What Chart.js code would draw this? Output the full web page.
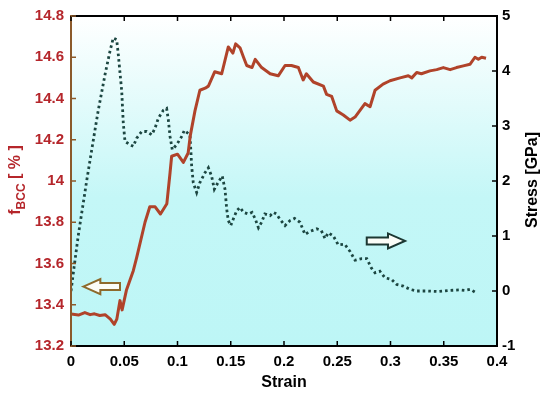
<!DOCTYPE html>
<html>
<head>
<meta charset="utf-8">
<script src="https://cdn.jsdelivr.net/npm/chart.js@4.4.1/dist/chart.umd.min.js"></script>
<style>
  html, body { margin: 0; padding: 0; background: #fff; }
  #wrap { width: 550px; height: 396px; position: relative; }
</style>
</head>
<body>
<div id="wrap"><canvas id="myChart"></canvas></div>
<script>
// fBCC curve (left axis)
const strainF = [0, 0.007, 0.013, 0.018, 0.022, 0.027, 0.032, 0.037, 0.0406, 0.043, 0.046, 0.048, 0.052, 0.0585, 0.0617,
    0.0695, 0.074, 0.079, 0.084, 0.09, 0.093, 0.0945, 0.1, 0.1055, 0.11, 0.112, 0.1164, 0.121, 0.126, 0.129, 0.135,
    0.1415, 0.1477, 0.152, 0.1546, 0.1587, 0.162, 0.165, 0.17, 0.173, 0.179, 0.187, 0.1946, 0.201, 0.207, 0.2135,
    0.218, 0.221, 0.2275, 0.237, 0.24, 0.2448, 0.2495, 0.2557, 0.262, 0.2667, 0.276, 0.2808, 0.2855, 0.293, 0.2995,
    0.309, 0.3167, 0.32, 0.3246, 0.329, 0.337, 0.3434, 0.3496, 0.356, 0.362, 0.3684, 0.3746, 0.3793, 0.3825, 0.3856, 0.3897];
const fbcc = [13.355, 13.35, 13.362, 13.352, 13.356, 13.348, 13.352, 13.33, 13.305, 13.33, 13.42, 13.375, 13.47, 13.565, 13.63,
    13.80, 13.875, 13.875, 13.84, 13.89, 14.04, 14.12, 14.13, 14.09, 14.136, 14.22, 14.34, 14.44, 14.45, 14.46, 14.53,
    14.52, 14.65, 14.62, 14.665, 14.646, 14.60, 14.56, 14.55, 14.59, 14.55, 14.52, 14.51, 14.56, 14.56, 14.55,
    14.49, 14.52, 14.48, 14.46, 14.42, 14.41, 14.34, 14.32, 14.295, 14.31, 14.375, 14.36, 14.44, 14.47, 14.486,
    14.50, 14.51, 14.50, 14.526, 14.52, 14.534, 14.54, 14.55, 14.54, 14.55, 14.558, 14.566, 14.60, 14.59, 14.60, 14.595];

// stress curve (right axis)
const strainS = [0, 0.0028, 0.0069, 0.0116, 0.0147, 0.021, 0.0256, 0.032, 0.0366, 0.0397, 0.0429, 0.0444, 0.0476, 0.0491,
    0.0507, 0.0554, 0.0585, 0.0617, 0.0664, 0.071, 0.0758, 0.0789, 0.082, 0.0867, 0.0898, 0.0914, 0.093, 0.0951, 0.0992,
    0.104, 0.1064, 0.109, 0.1117, 0.1133, 0.1148, 0.118, 0.121, 0.1258, 0.129, 0.132, 0.1346, 0.138, 0.142, 0.1446,
    0.1462, 0.1477, 0.150, 0.1524, 0.1556, 0.1587, 0.162, 0.1665, 0.17, 0.173, 0.176, 0.179, 0.182, 0.187, 0.19, 0.193,
    0.196, 0.201, 0.2056, 0.21, 0.215, 0.2197, 0.224, 0.2307, 0.235, 0.2385, 0.2416, 0.2463, 0.251, 0.257, 0.262,
    0.2667, 0.273, 0.2777, 0.282, 0.2855, 0.29, 0.2948, 0.301, 0.3058, 0.312, 0.3183, 0.3246, 0.335, 0.345, 0.355,
    0.365, 0.37, 0.375, 0.3793];
const stress = [0.0, 0.42, 1.02, 1.61, 2.0, 2.75, 3.285, 3.94, 4.36, 4.60, 4.57, 4.30, 3.64, 3.05,
    2.72, 2.66, 2.63, 2.78, 2.90, 2.90, 2.84, 2.96, 3.14, 3.285, 3.32, 3.11, 2.81, 2.57, 2.66,
    2.81, 2.92, 2.88, 2.84, 2.27, 1.97, 1.79, 1.97, 2.15, 2.24, 2.09, 1.85, 1.97, 2.09, 1.85,
    1.49, 1.28, 1.19, 1.31, 1.46, 1.52, 1.43, 1.40, 1.43, 1.31, 1.15, 1.25, 1.40, 1.37, 1.43, 1.40,
    1.31, 1.19, 1.28, 1.32, 1.25, 1.03, 1.08, 1.13, 1.10, 0.955, 1.06, 1.0, 0.837, 0.85, 0.72,
    0.56, 0.59, 0.59, 0.42, 0.33, 0.36, 0.24, 0.21, 0.12, 0.09, 0.03, 0.0, 0.0, -0.01, 0.01,
    0.02, 0.01, 0.03, -0.02];

const xTicks = [0, 0.05, 0.1, 0.15, 0.2, 0.25, 0.3, 0.35, 0.4];
const fTicks = [13.2, 13.4, 13.6, 13.8, 14, 14.2, 14.4, 14.6, 14.8];
const sTicks = [-1, 0, 1, 2, 3, 4, 5];

// hollow arrows: [x0, x1, y] in data units
const leftArrow = [0.0116, 0.046, 13.488];
const rightArrow = [0.2777, 0.3136, 0.91];

const RED = '#b5262b';
const BROWN = '#8b5a2b';
const LINE_RED = '#b0432a';
const DOTS = '#1c4641';
const FONT = '"Liberation Sans", Arial, sans-serif';

function fmt(v) {
    return String(Math.round(v * 100) / 100);
}

function hollowArrow(ctx, xa, xb, y, dir, color) {
    // xa = tip, xb = tail
    const head = 17, hh = 7.5, sh = 3.5;
    const hx = xa - dir * head;
    ctx.save();
    ctx.beginPath();
    ctx.moveTo(xa, y);
    ctx.lineTo(hx, y - hh);
    ctx.lineTo(hx, y - sh);
    ctx.lineTo(xb, y - sh);
    ctx.lineTo(xb, y + sh);
    ctx.lineTo(hx, y + sh);
    ctx.lineTo(hx, y + hh);
    ctx.closePath();
    ctx.fillStyle = '#fbfdf8';
    ctx.fill();
    ctx.lineWidth = 2;
    ctx.strokeStyle = color;
    ctx.stroke();
    ctx.restore();
}

const decor = {
    id: 'decor',
    beforeDraw(chart) {
        const { ctx, chartArea: a } = chart;
        const g = ctx.createLinearGradient(0, a.top, 0, a.bottom);
        g.addColorStop(0, '#ffffff');
        g.addColorStop(0.55, '#c4f7f7');
        g.addColorStop(1, '#bdf6f6');
        ctx.save();
        ctx.fillStyle = g;
        ctx.fillRect(a.left, a.top, a.right - a.left, a.bottom - a.top);
        ctx.restore();
    },
    afterDraw(chart) {
        const { ctx, chartArea: a, scales } = chart;
        ctx.save();
        // frame
        ctx.lineWidth = 2;
        ctx.strokeStyle = '#000';
        ctx.beginPath();
        ctx.moveTo(a.left, a.bottom); ctx.lineTo(a.right, a.bottom); ctx.lineTo(a.right, a.top); ctx.lineTo(a.left, a.top);
        ctx.stroke();
        ctx.strokeStyle = BROWN;
        ctx.beginPath();
        ctx.moveTo(a.left, a.top - 1); ctx.lineTo(a.left, a.bottom + 1);
        ctx.stroke();
        // inward ticks
        ctx.lineWidth = 1.5;
        ctx.strokeStyle = '#000';
        scales.x.ticks.forEach(t => {
            const px = scales.x.getPixelForValue(t.value);
            ctx.beginPath();
            ctx.moveTo(px, a.bottom); ctx.lineTo(px, a.bottom - 5);
            ctx.moveTo(px, a.top); ctx.lineTo(px, a.top + 5);
            ctx.stroke();
        });
        scales.y1.ticks.forEach(t => {
            const py = scales.y1.getPixelForValue(t.value);
            ctx.beginPath();
            ctx.moveTo(a.right, py); ctx.lineTo(a.right - 5, py);
            ctx.stroke();
        });
        ctx.strokeStyle = BROWN;
        scales.y.ticks.forEach(t => {
            const py = scales.y.getPixelForValue(t.value);
            ctx.beginPath();
            ctx.moveTo(a.left, py); ctx.lineTo(a.left + 5, py);
            ctx.stroke();
        });

        // arrows
        hollowArrow(ctx, scales.x.getPixelForValue(leftArrow[0]), scales.x.getPixelForValue(leftArrow[1]),
            scales.y.getPixelForValue(leftArrow[2]), -1, '#8d6a2c');
        hollowArrow(ctx, scales.x.getPixelForValue(rightArrow[1]), scales.x.getPixelForValue(rightArrow[0]),
            scales.y1.getPixelForValue(rightArrow[2]), 1, '#1c3833');

        // axis titles
        ctx.fillStyle = '#000';
        ctx.font = 'bold 16px ' + FONT;
        ctx.textAlign = 'center';
        ctx.textBaseline = 'middle';
        ctx.fillText('Strain', (a.left + a.right) / 2, 383);

        ctx.save();
        ctx.translate(533, 180);
        ctx.rotate(-Math.PI / 2);
        ctx.fillText('Stress [GPa]', 0, 0);
        ctx.restore();

        // f_BCC [ % ]
        ctx.save();
        ctx.translate(20, 180);
        ctx.rotate(-Math.PI / 2);
        ctx.fillStyle = RED;
        ctx.textBaseline = 'alphabetic';
        ctx.textAlign = 'left';
        const big = 'bold 16px ' + FONT, small = 'bold 12px ' + FONT;
        ctx.font = big; const w1 = ctx.measureText('f').width;
        ctx.font = small; const w2 = ctx.measureText('BCC').width;
        ctx.font = big; const w3 = ctx.measureText(' [ % ]').width;
        let x = -(w1 + w2 + w3) / 2;
        ctx.font = big; ctx.fillText('f', x, 0); x += w1;
        ctx.font = small; ctx.fillText('BCC', x, 5); x += w2;
        ctx.font = big; ctx.fillText(' [ % ]', x, 0);
        ctx.restore();
        ctx.restore();
    }
};

document.addEventListener('DOMContentLoaded', () => {
    const GRAPH = document.getElementById('myChart').getContext('2d');
    window.myGraph = new Chart(GRAPH, {
        type: 'line',
        data: {
            datasets: [
                {
                    label: 'fBCC',
                    data: strainF.map((s, i) => ({ x: s, y: fbcc[i] })),
                    yAxisID: 'y',
                    borderColor: LINE_RED,
                    borderWidth: 3,
                    pointRadius: 0,
                    tension: 0,
                    borderJoinStyle: 'round',
                    order: 1
                },
                {
                    label: 'Stress',
                    data: strainS.map((s, i) => ({ x: s, y: stress[i] })),
                    yAxisID: 'y1',
                    borderColor: DOTS,
                    borderWidth: 2.8,
                    borderDash: [2.6, 3],
                    pointRadius: 0,
                    tension: 0,
                    order: 2
                }
            ]
        },
        options: {
            responsive: true,
            maintainAspectRatio: false,
            animation: false,
            layout: { padding: { top: 11, right: 0, left: 0, bottom: 0 } },
            scales: {
                x: {
                    type: 'linear',
                    min: 0, max: 0.4,
                    afterBuildTicks: s => { s.ticks = xTicks.map(v => ({ value: v })); },
                    afterFit: s => { s.height = 50; },
                    grid: { display: false, drawTicks: false },
                    border: { display: false },
                    ticks: {
                        padding: 7,
                        maxRotation: 0,
                        color: '#000',
                        font: { family: FONT, size: 15, weight: 'bold' },
                        callback: v => fmt(v)
                    }
                },
                y: {
                    position: 'left',
                    min: 13.2, max: 14.8,
                    afterBuildTicks: s => { s.ticks = fTicks.map(v => ({ value: v })); },
                    afterFit: s => { s.width = 71; },
                    grid: { display: false, drawTicks: false },
                    border: { display: false },
                    ticks: {
                        padding: 7,
                        color: RED,
                        font: { family: FONT, size: 15, weight: 'bold' },
                        callback: v => fmt(v)
                    }
                },
                y1: {
                    position: 'right',
                    min: -1, max: 5,
                    afterBuildTicks: s => { s.ticks = sTicks.map(v => ({ value: v })); },
                    afterFit: s => { s.width = 53; },
                    grid: { display: false, drawTicks: false },
                    border: { display: false },
                    ticks: {
                        padding: 5,
                        color: '#000',
                        font: { family: FONT, size: 15, weight: 'bold' },
                        callback: v => fmt(v)
                    }
                }
            },
            plugins: {
                legend: { display: false },
                tooltip: { enabled: false }
            }
        },
        plugins: [decor]
    });
});
</script>
</body>
</html>
